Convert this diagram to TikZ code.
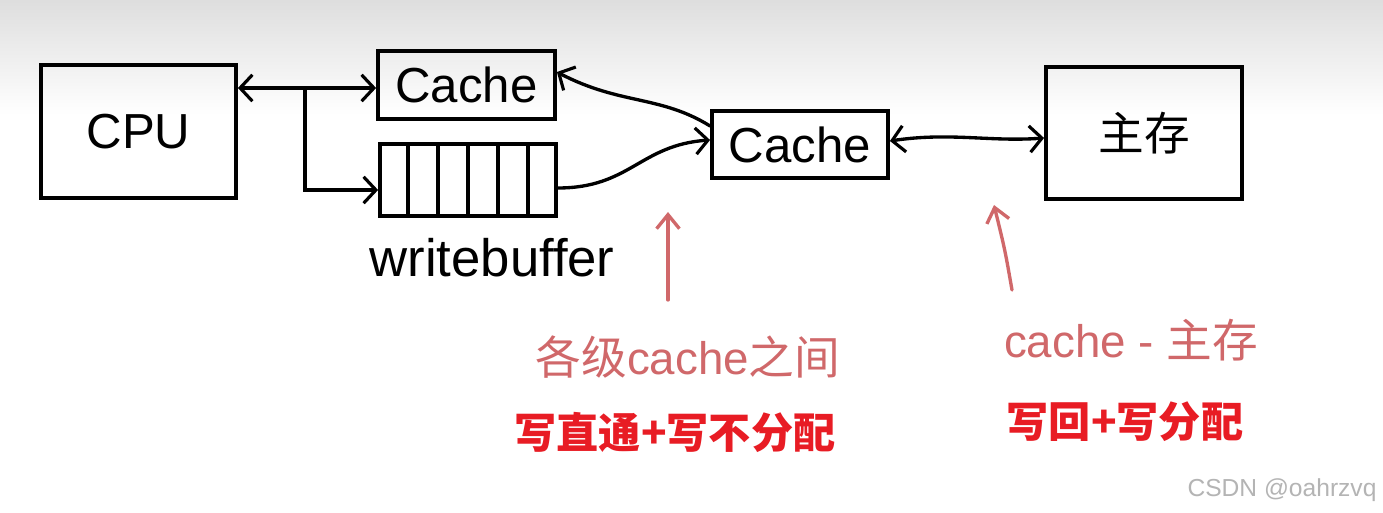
\documentclass[tikz,border=0pt]{standalone}
\usepackage{fontspec}
\setmainfont{Liberation Sans}
\newfontfamily\cjk{Noto Sans CJK SC}
\usetikzlibrary{arrows.meta,calc}
\definecolor{handred}{RGB}{208,104,106}
\definecolor{boldred}{RGB}{232,28,36}
\definecolor{wmgray}{RGB}{180,180,180}
\begin{document}
\begin{tikzpicture}[x=0.02cm,y=-0.02cm,
  box/.style={draw, line width=2.2pt, inner sep=0pt},
  tipb/.tip={Straight Barb[length=7pt,width=15pt,line width=1.8pt]},
  conn/.style={line width=1.9pt, line cap=round, tipb-tipb},
  oneway/.style={line width=1.9pt, line cap=round, -tipb},
  redarrow/.style={draw=handred, line width=1.9pt, line cap=round, -{Straight Barb[length=8pt,width=13pt,line width=1.9pt]}},
  hand/.style={font=\fontsize{28}{30}\selectfont},
  handlab/.style={text=handred, font=\fontsize{26}{28}\selectfont},
  boldlab/.style={text=boldred, font=\cjk\bfseries\fontsize{24}{26}\selectfont}
]
\useasboundingbox (0,0) rectangle (1383,513);
\fill[white] (0,0) rectangle (1383,513);
\shade[top color=black!13, bottom color=white] (0,0) rectangle (1383,115);

% boxes
\node[box, minimum width=3.9cm, minimum height=2.66cm, hand] (cpu) at (138.5,131.5) {CPU};
\node[box, minimum width=3.54cm, minimum height=1.36cm, hand] (c1) at (466.5,85) {Cache};
\node[box, minimum width=3.52cm, minimum height=1.44cm] (wb) at (468,180) {};
\foreach \i in {1,...,5} {
  \draw[line width=1.8pt] ($(wb.north west)!\i/6!(wb.north east)$) -- ($(wb.south west)!\i/6!(wb.south east)$);
}
\node[box, minimum width=3.52cm, minimum height=1.34cm, hand] (c2) at (800,144.5) {Cache};
\node[box, minimum width=3.92cm, minimum height=2.64cm, font=\cjk\fontsize{26}{28}\selectfont] (mem) at (1144,133) {主存};

\node[hand, font=\fontsize{30}{32}\selectfont] (wblab) at (492,258) {writebuffer};

% connectors
\coordinate (cpuR) at (cpu.east |- 0,88);
\coordinate (c1L) at (c1.west |- 0,88);
\draw[conn] (cpuR) -- (c1L);
\coordinate (br) at (305,88);
\coordinate (wbL) at (wb.west |- 0,190);
\draw[oneway] (br) |- (wbL);
\coordinate (wbR) at (wb.east |- 0,188);
\coordinate (c2L) at (c2.west |- 0,140);
\draw[oneway] (wbR) .. controls (630,188) and (640,145) .. (c2L);
\coordinate (c2LT) at (c2.west |- 0,126);
\coordinate (c1R) at (c1.east |- 0,72);
\draw[oneway] (c2LT) .. controls (660,95) and (620,105) .. (c1R);
\coordinate (c2R) at (c2.east |- 0,141);
\coordinate (memL) at (mem.west |- 0,138);
\draw[conn] (c2R) .. controls (950,132) and (990,142) .. (memL);

% red arrows
\coordinate (ra1s) at (668,300);
\coordinate (ra1e) at (668,212);
\draw[redarrow] (ra1s) -- (ra1e);
\coordinate (ra2s) at (1012,290);
\coordinate (ra2e) at (994,205);
\draw[redarrow] (ra2s) .. controls (1005,250) .. (ra2e);

% labels
\node[handlab] (lab1) at (688,357) {{\cjk 各级}cache{\cjk 之间}};
\node[handlab] (lab2) at (1131,340) {cache - {\cjk 主存}};
\node[boldlab] (b1) at (675,432) {写直通+写不分配};
\node[boldlab] (b2) at (1125,422) {写回+写分配};
\node[text=wmgray, font=\fontsize{14}{16}\selectfont] (wm) at (1282,490) {CSDN @oahrzvq};
\end{tikzpicture}
\end{document}
